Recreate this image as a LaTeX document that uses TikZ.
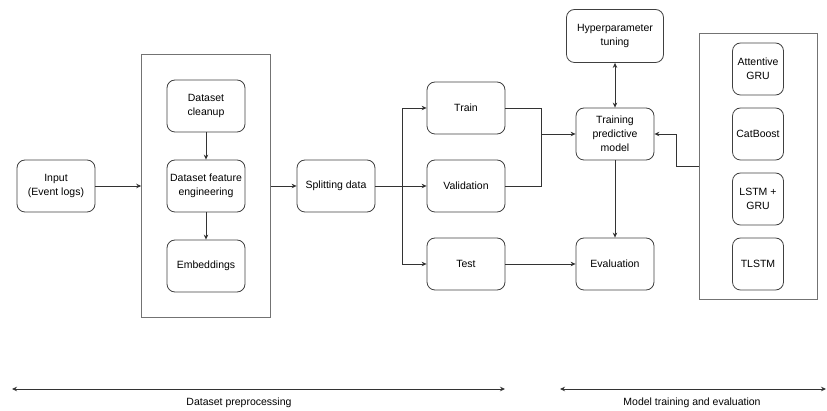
\documentclass[tikz,border=0pt]{standalone}
\usepackage{fontspec}
\setmainfont{Liberation Sans}
\usetikzlibrary{arrows.meta,fit}

\begin{document}
\begin{tikzpicture}[
                x=1pt, y=-1pt,                % 像素坐标
                >={Stealth[length=5pt,width=4.5pt]},
                box/.style={
                    rectangle,
                    rounded corners=8pt,
                    draw=black!75,
                    line width=0.8pt,
                    minimum width=78pt,
                    minimum height=52pt,
                    inner sep=2pt,
                    align=center,
                    font=\fontsize{10.5}{14}\selectfont
                },
                netbox/.style={box, minimum width=51pt},
                group/.style={rectangle, draw=black!55, line width=0.8pt},
                link/.style={draw=black!80, line width=0.8pt},
                arrow/.style={->, link},
                phase/.style={font=\fontsize{10.5}{14}\selectfont}
            ]
                \useasboundingbox (0,0) rectangle (827,411);

                % 节点
                \node[box] (input) at (56,186) {Input\\(Event logs)};
                \node[box, node distance=150pt, right of=input] (feat) {Dataset feature\\engineering};
                \node[box, node distance=80pt, above of=feat] (clean) {Dataset\\cleanup};
                \node[box, node distance=80pt, below of=feat] (emb) {Embeddings};
                \node[group, fit=(clean)(emb), inner sep=25pt] (prep) {};
                \node[box, node distance=130pt, right of=feat] (split) {Splitting data};
                \node[box, node distance=130pt, right of=split] (valid) {Validation};
                \node[box, node distance=78pt, above of=valid] (train) {Train};
                \node[box, node distance=78pt, below of=valid] (test) {Test};
                \node[box] (model) at (615,134) {Training\\predictive\\model};
                \node[box, minimum width=97pt, minimum height=53pt, node distance=98pt, above of=model] (tune) {Hyperparameter\\tuning};
                \node[box, node distance=130pt, below of=model] (eval) {Evaluation};

                % 模型
                \node[netbox, node distance=143pt, right of=model] (cat) {CatBoost};
                \node[netbox, node distance=65pt, above of=cat] (attgru) {Attentive\\GRU};
                \node[netbox, node distance=65pt, below of=cat] (lstm) {LSTM +\\GRU};
                \node[netbox, node distance=65pt, below of=lstm] (tlstm) {TLSTM};
                \node[group, fit=(attgru)(tlstm), inner xsep=33pt, inner ysep=9pt] (nets) {};

                % 边
                \draw[arrow] (clean) -- (feat);
                \draw[arrow] (feat) -- (emb);
                \draw[arrow] (input) -- (prep);
                \draw[arrow] (prep) -- (split);
                \coordinate (fork) at (402,186);
                \draw[link] (split) -- (fork);
                \draw[arrow] (fork) |- (train);
                \draw[arrow] (fork) -- (valid);
                \draw[arrow] (fork) |- (test);
                \coordinate (join) at (541,134);
                \draw[link] (train) -| (join);
                \draw[link] (valid) -| (join);
                \draw[arrow] (join) -- (model);
                \draw[<->, link] (tune) -- (model);
                \draw[arrow] (model) -- (eval);
                \draw[arrow] (test) -- (eval);
                \draw[arrow] (nets.west) -- ++(-22,0) |- (model);

                % 阶段
                \coordinate (prepL) at (12,389);
                \coordinate (prepR) at (505,389);
                \draw[<->, link] (prepL) -- (prepR);
                \node[phase] (prepT) at (239,403) {Dataset preprocessing};
                \coordinate (trainL) at (560,389);
                \coordinate (trainR) at (826,389);
                \draw[<->, link] (trainL) -- (trainR);
                \node[phase] (trainT) at (692,403) {Model training and evaluation};
            \end{tikzpicture}
\end{document}
